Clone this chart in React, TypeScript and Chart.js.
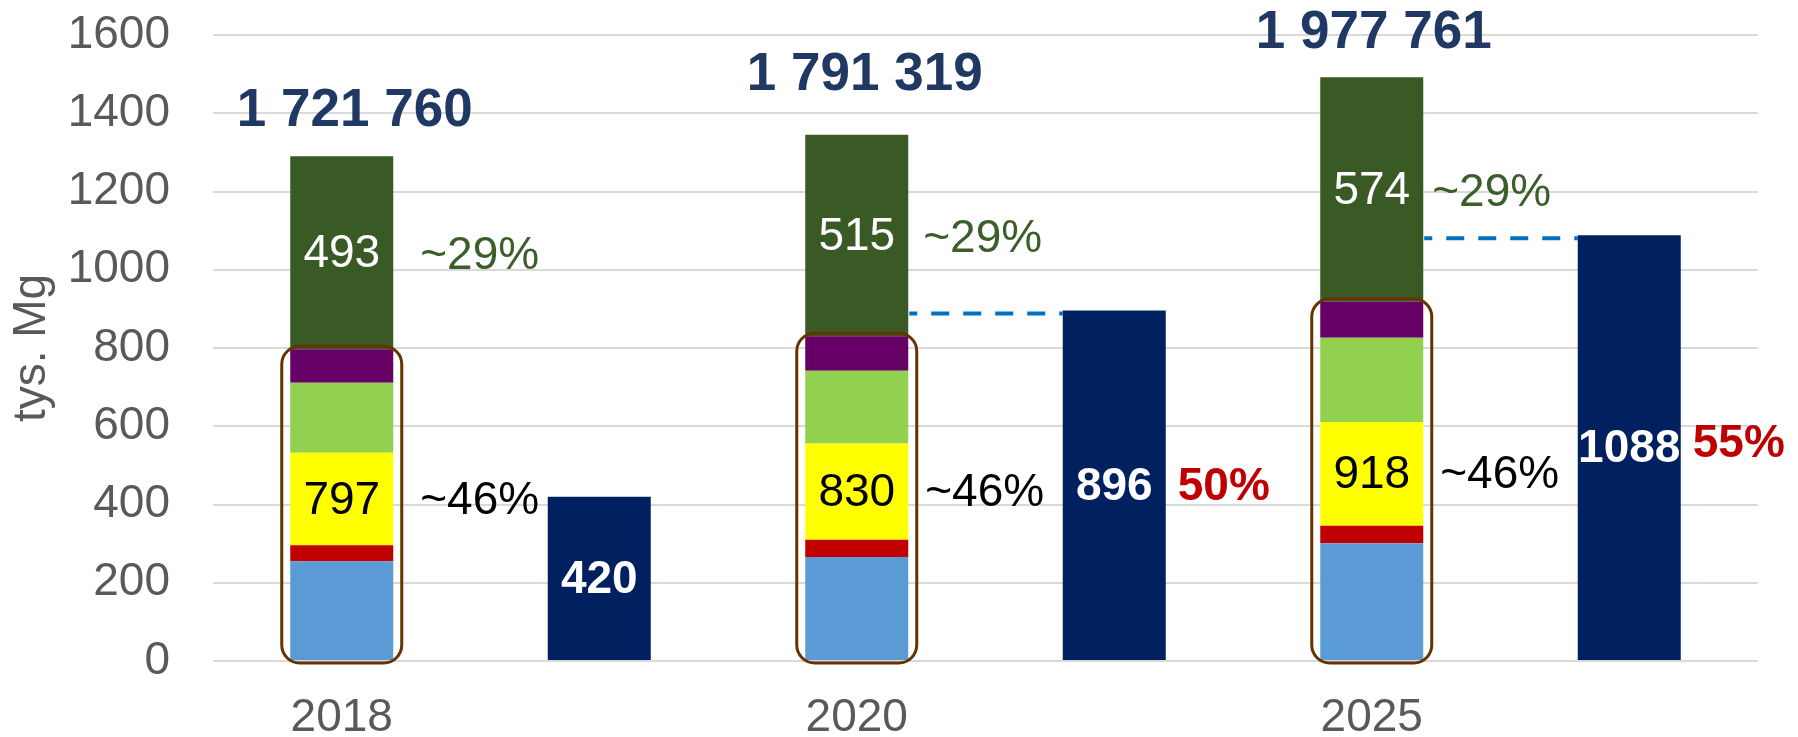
import React, { useEffect, useRef } from 'react';
import { Chart, registerables } from 'chart.js';

Chart.register(...registerables);

// ---------- data ----------
const years = ['2018', '2020', '2025'];
const blueSeries = [255, 266, 301];
const redSeries = [41, 44, 45];
const yellowSeries = [236, 246, 265];
const lightGreenSeries = [179, 186, 215];
const purpleSeries = [86, 88, 92];
const darkGreenSeries = [493, 515, 574];
const navySeries = [420, 896, 1088];
const totals = [1721760, 1791319, 1977761];
const darkGreenShare = ['~29%', '~29%', '~29%'];
const boxedShare = ['~46%', '~46%', '~46%'];
const navyShare = ['', '50%', '55%'];
const yTicks = [0, 200, 400, 600, 800, 1000, 1200, 1400, 1600];

// ---------- layout / style constants ----------
const FONT = "'Liberation Sans', Arial, Helvetica, sans-serif";
const totalLift = [45, 59, 44];
const totalShift = [13, 8, 2];
const shareGap29 = [27, 15, 9];
const shareGap46 = [27, 17, 17];
const TEXT_DY = 2;

const stackedColors = ['#5B9BD5', '#C00000', '#FFFF00', '#92D050', '#660066', '#3A5A25'];
const stackedSeries = [blueSeries, redSeries, yellowSeries, lightGreenSeries, purpleSeries, darkGreenSeries];

const labels = years.flatMap((y) => [y, '']);
const fmtTotal = (v: number) => String(v).replace(/\B(?=(\d{3})+(?!\d))/g, ' ');

function roundRectPath(ctx: CanvasRenderingContext2D, x: number, y: number, w: number, h: number, r: number) {
  ctx.beginPath();
  ctx.moveTo(x + r, y);
  ctx.lineTo(x + w - r, y);
  ctx.arcTo(x + w, y, x + w, y + r, r);
  ctx.lineTo(x + w, y + h - r);
  ctx.arcTo(x + w, y + h, x + w - r, y + h, r);
  ctx.lineTo(x + r, y + h);
  ctx.arcTo(x, y + h, x, y + h - r, r);
  ctx.lineTo(x, y + r);
  ctx.arcTo(x, y, x + r, y, r);
  ctx.closePath();
}

const annotPlugin = {
  id: 'annot',
  afterDatasetsDraw(chart: any) {
    const ctx: CanvasRenderingContext2D = chart.ctx;
    const metas = stackedSeries.map((_, i) => chart.getDatasetMeta(i));
    const navyMeta = chart.getDatasetMeta(stackedSeries.length);
    years.forEach((_, g) => {
      const si = g * 2;
      const ni = g * 2 + 1;
      const blue = metas[0].data[si];
      const yellow = metas[2].data[si];
      const purple = metas[4].data[si];
      const dg = metas[5].data[si];
      const navy = navyMeta.data[ni];
      const cx = blue.x;
      const half = blue.width / 2;
      const left = cx - half;
      const right = cx + half;
      const boxedTotal = blueSeries[g] + redSeries[g] + yellowSeries[g] + lightGreenSeries[g] + purpleSeries[g];

      ctx.save();
      // dashed link
      if (navySeries[g] > boxedTotal) {
        const ly = navy.y + 3;
        ctx.strokeStyle = '#0070C0';
        ctx.lineWidth = 4;
        ctx.setLineDash([18, 14]);
        ctx.lineDashOffset = 10;
        ctx.beginPath();
        ctx.moveTo(right + 1, ly);
        ctx.lineTo(navy.x - navy.width / 2, ly);
        ctx.stroke();
        ctx.setLineDash([]);
      }
      // rounded box
      ctx.strokeStyle = '#663300';
      ctx.lineWidth = 3;
      const bx = left - 8.5;
      const by = purple.y - 3;
      roundRectPath(ctx, bx, by, right - left + 17, blue.base + 3 - by, 18);
      ctx.stroke();

      // totals
      ctx.textBaseline = 'middle';
      ctx.textAlign = 'center';
      ctx.fillStyle = '#1F3864';
      ctx.font = `bold 53px ${FONT}`;
      ctx.fillText(fmtTotal(totals[g]), cx + totalShift[g], dg.y - totalLift[g]);

      // dark green segment
      const dgY = (dg.y + dg.base) / 2 + TEXT_DY;
      ctx.font = `46px ${FONT}`;
      ctx.fillStyle = '#FFFFFF';
      ctx.fillText(String(darkGreenSeries[g]), cx, dgY);
      ctx.textAlign = 'left';
      ctx.fillStyle = '#3B5E2B';
      ctx.fillText(darkGreenShare[g], right + shareGap29[g], dgY + 2);

      // yellow segment (boxed group total)
      const yY = (yellow.y + yellow.base) / 2 + TEXT_DY;
      ctx.textAlign = 'center';
      ctx.fillStyle = '#000000';
      ctx.fillText(String(boxedTotal), cx, yY);
      ctx.textAlign = 'left';
      ctx.fillText(boxedShare[g], right + shareGap46[g], yY);

      // navy bar
      const nY = (navy.y + navy.base) / 2 + TEXT_DY;
      ctx.textAlign = 'center';
      ctx.fillStyle = '#FFFFFF';
      ctx.font = `bold 46px ${FONT}`;
      ctx.fillText(String(navySeries[g]), navy.x, nY);
      if (navyShare[g]) {
        ctx.textAlign = 'left';
        ctx.fillStyle = '#C00000';
        ctx.fillText(navyShare[g], navy.x + navy.width / 2 + 12, nY - (g === 2 ? 5 : 0));
      }
      ctx.restore();
    });
  },
};

export default function App() {
  const ref = useRef<HTMLCanvasElement | null>(null);
  useEffect(() => {
    document.body.style.margin = '0';
    const datasets: any[] = stackedSeries.map((s, i) => ({
      label: 'seg' + i,
      data: years.flatMap((_, g) => [s[g], null]),
      backgroundColor: stackedColors[i],
      borderWidth: 0,
      categoryPercentage: 0.8,
      barPercentage: 0.5,
    }));
    datasets.push({
      label: 'navy',
      data: years.flatMap((_, g) => [null, navySeries[g]]),
      backgroundColor: '#002060',
      borderWidth: 0,
      categoryPercentage: 0.8,
      barPercentage: 0.5,
    });
    const chart = new Chart(ref.current!, {
      type: 'bar',
      data: { labels, datasets },
      plugins: [annotPlugin],
      options: {
        animation: false,
        responsive: false,
        devicePixelRatio: 1,
        layout: { padding: { top: 35, right: 40, left: 0, bottom: 0 } },
        plugins: { legend: { display: false }, tooltip: { enabled: false } },
        scales: {
          x: {
            stacked: true,
            grid: { display: false, drawTicks: false },
            border: { display: false },
            ticks: { color: '#595959', font: { family: FONT, size: 46 }, padding: 30, maxRotation: 0, autoSkip: false },
            afterFit: (s: any) => { s.height = 76; },
          },
          y: {
            stacked: true,
            min: 0,
            max: 1600,
            grid: { color: '#D9D9D9', lineWidth: 2, drawTicks: false },
            border: { display: false },
            ticks: {
              color: '#595959',
              font: { family: FONT, size: 46 },
              padding: 43,
              callback: (v: any) => String(v),
            },
            afterBuildTicks: (s: any) => { s.ticks = yTicks.map((v) => ({ value: v })); },
            afterFit: (s: any) => { s.width = 213; s.paddingTop = 0; s.paddingBottom = 0; },
            title: { display: true, text: 'tys. Mg', color: '#595959', font: { family: FONT, size: 46 }, padding: { top: 5, bottom: 0 } },
          },
        },
      },
    });
    return () => chart.destroy();
  }, []);
  return (
    <div style={{ width: 1798, height: 737 }}>
      <canvas ref={ref} width={1798} height={737} />
    </div>
  );
}
